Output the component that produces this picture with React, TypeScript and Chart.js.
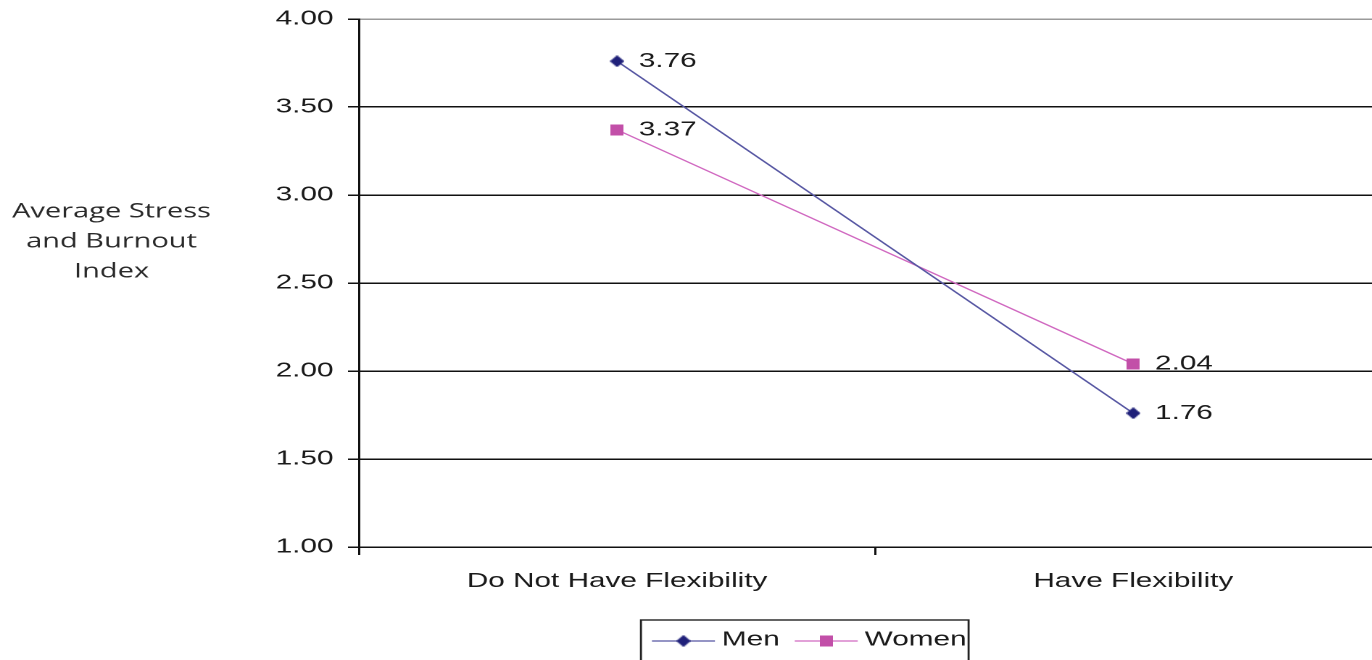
import React, { useEffect, useRef } from 'react';
import { Chart, registerables } from 'chart.js';

Chart.register(...registerables);

// ---- data ----
const categories = ['Do Not Have Flexibility', 'Have Flexibility'];
const seriesLabels = ['Men', 'Women'];
const menValues = [3.76, 1.76];
const womenValues = [3.37, 2.04];
const yTickValues = [1, 1.5, 2, 2.5, 3, 3.5, 4];
const yTitleLines = ['Average Stress', 'and Burnout', 'Index'];

// ---- styling ----
const S = 1.45; // horizontal stretch of the reference picture
const W = 967;
const H = 660;
const MEN_LINE = '#5656a2';
const MEN_MARK = '#1f2079';
const WOMEN_LINE = '#d068c0';
const WOMEN_MARK = '#c24fa8';
const TEXT = '#1a1a1a';
const FONT = '"Liberation Sans", Arial, sans-serif';

function makeMarker(kind: 'diamond' | 'square', color: string): HTMLCanvasElement {
  const c = document.createElement('canvas');
  if (kind === 'diamond') {
    c.width = 10;
    c.height = 12;
    const g = c.getContext('2d')!;
    g.fillStyle = color;
    g.beginPath();
    g.moveTo(5, 0);
    g.lineTo(10, 6);
    g.lineTo(5, 12);
    g.lineTo(0, 6);
    g.closePath();
    g.fill();
  } else {
    c.width = 9;
    c.height = 11;
    const g = c.getContext('2d')!;
    g.fillStyle = color;
    g.fillRect(0, 0, 9, 11);
  }
  return c;
}

const dataLabelPlugin = {
  id: 'dataLabels',
  afterDatasetsDraw(chart: any) {
    const ctx = chart.ctx;
    ctx.save();
    ctx.font = `20.5px ${FONT}`;
    ctx.fillStyle = TEXT;
    ctx.textBaseline = 'middle';
    ctx.textAlign = 'left';
    chart.data.datasets.forEach((ds: any, i: number) => {
      const meta = chart.getDatasetMeta(i);
      meta.data.forEach((pt: any, j: number) => {
        const v = ds.data[j] as number;
        ctx.fillText(v.toFixed(2), pt.x + 15, pt.y);
      });
    });
    ctx.restore();
  },
};

const yTitlePlugin = {
  id: 'yTitle',
  afterDraw(chart: any) {
    const ctx = chart.ctx;
    ctx.save();
    ctx.font = `20px "Open Sans", "DejaVu Sans", sans-serif`;
    ctx.fillStyle = '#2a2a2a';
    ctx.textAlign = 'center';
    ctx.textBaseline = 'middle';
    const cx = 111.5 / S;
    yTitleLines.forEach((line, i) => {
      ctx.fillText(line, cx, 212 + i * 30);
    });
    ctx.restore();
  },
};

const boxLegendPlugin = {
  id: 'boxLegend',
  afterDraw(chart: any) {
    const ctx = chart.ctx;
    ctx.save();
    ctx.font = `20.5px ${FONT}`;
    ctx.textBaseline = 'middle';
    ctx.textAlign = 'left';
    const left = 641 / S;
    const top = 620;
    const cy = 641;
    let x = left + 11 / S;
    let lastEnd = x;
    chart.data.datasets.forEach((ds: any) => {
      const lineLen = 63 / S;
      ctx.strokeStyle = ds.borderColor;
      ctx.lineWidth = 1.3;
      ctx.beginPath();
      ctx.moveTo(x, cy);
      ctx.lineTo(x + lineLen, cy);
      ctx.stroke();
      const img = ds.pointStyle as HTMLCanvasElement;
      ctx.drawImage(img, x + lineLen / 2 - img.width / 2, cy - img.height / 2, img.width, img.height);
      const tx = x + 70 / S;
      ctx.fillStyle = TEXT;
      ctx.fillText(ds.label, tx, cy - 1);
      lastEnd = tx + ctx.measureText(ds.label).width;
      x = lastEnd + 15 / S;
    });
    ctx.strokeStyle = '#222';
    ctx.lineWidth = 1.4;
    ctx.strokeRect(left, top, lastEnd + 2 / S - left, 60);
    ctx.restore();
  },
};

export default function App() {
  const ref = useRef<HTMLCanvasElement | null>(null);

  useEffect(() => {
    if (!ref.current) return;
    const menMarker = makeMarker('diamond', MEN_MARK);
    const womenMarker = makeMarker('square', WOMEN_MARK);
    const chart = new Chart(ref.current, {
      type: 'line',
      data: {
        labels: categories,
        datasets: [
          {
            label: seriesLabels[0],
            data: menValues,
            borderColor: MEN_LINE,
            backgroundColor: MEN_MARK,
            borderWidth: 1.3,
            pointStyle: menMarker as any,
            pointRadius: 6,
            tension: 0,
          },
          {
            label: seriesLabels[1],
            data: womenValues,
            borderColor: WOMEN_LINE,
            backgroundColor: WOMEN_MARK,
            borderWidth: 1.3,
            pointStyle: womenMarker as any,
            pointRadius: 6,
            tension: 0,
          },
        ],
      },
      options: {
        animation: false,
        responsive: false,
        devicePixelRatio: 2,
        layout: { padding: { top: 19, left: 0, right: 0, bottom: 0 } },
        plugins: {
          legend: { display: false },
          tooltip: { enabled: false },
          title: { display: false },
        },
        scales: {
          x: {
            type: 'category',
            offset: true,
            afterFit: (scale: any) => {
              scale.height = 113;
            },
            grid: {
              offset: true,
              drawOnChartArea: false,
              drawTicks: true,
              tickLength: 8,
              color: '#111',
              lineWidth: 1.5,
            },
            border: { display: true, color: '#111', width: 1.5 },
            ticks: {
              color: TEXT,
              font: { family: FONT, size: 20.5 },
              padding: 14,
              maxRotation: 0,
              autoSkip: false,
            },
          },
          y: {
            type: 'linear',
            min: 1,
            max: 4,
            afterFit: (scale: any) => {
              scale.width = 359 / S;
              scale.paddingTop = 0;
              scale.paddingBottom = 0;
            },
            afterBuildTicks: (scale: any) => {
              scale.ticks = yTickValues.map((v) => ({ value: v }));
            },
            grid: {
              color: (c: any) => (c.tick && c.tick.value === 4 ? '#9a9a9a' : '#111'),
              tickColor: '#111',
              lineWidth: 1.5,
              tickLength: 11 / S,
              drawTicks: true,
            },
            border: { display: true, color: '#111', width: 1.5 },
            ticks: {
              color: TEXT,
              font: { family: FONT, size: 20.5 },
              padding: 10,
              callback: (v: any) => Number(v).toFixed(2),
            },
          },
        },
      },
      plugins: [dataLabelPlugin, yTitlePlugin, boxLegendPlugin],
    });
    return () => chart.destroy();
  }, []);

  return (
    <div
      style={{
        position: 'fixed',
        left: 0,
        top: 0,
        width: 1372,
        height: 660,
        overflow: 'hidden',
        background: '#fff',
      }}
    >
      <canvas
        ref={ref}
        width={W}
        height={H}
        style={{ width: `${W * S}px`, height: `${H}px`, display: 'block' }}
      />
    </div>
  );
}
